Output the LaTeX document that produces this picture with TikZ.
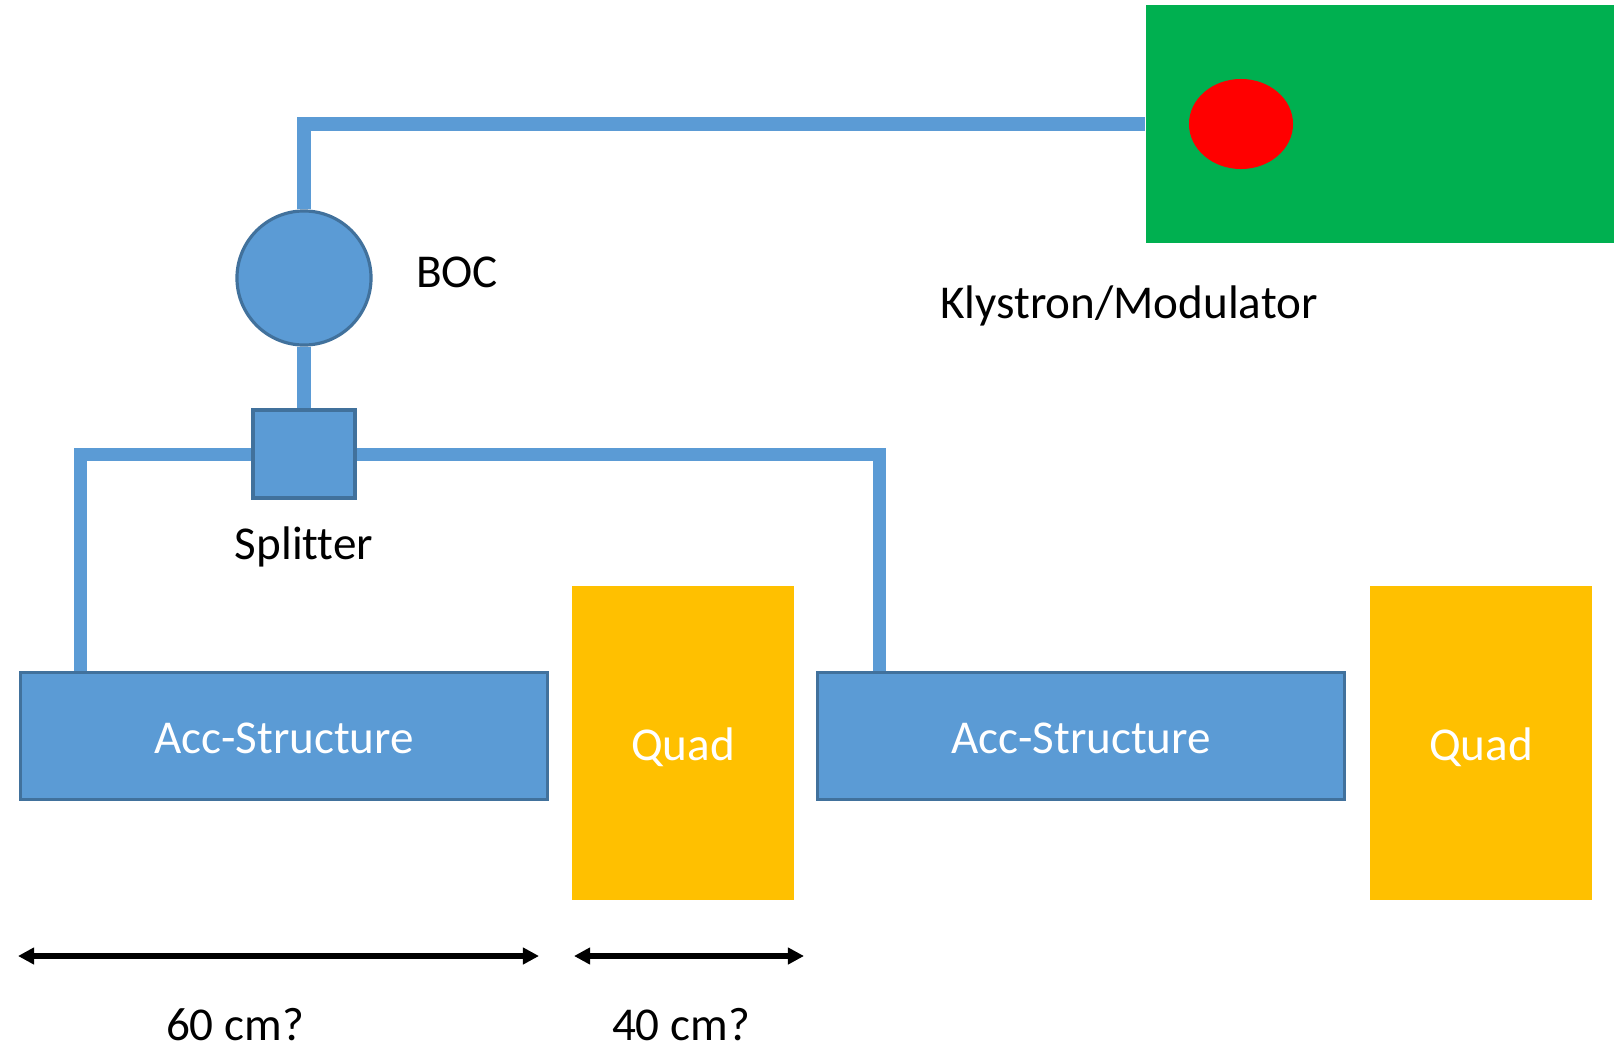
\documentclass[tikz,border=0pt]{standalone}
\usepackage{fontspec}
\setmainfont{Carlito}[Ligatures=NoCommon]
\usetikzlibrary{arrows.meta,shapes.geometric}
\definecolor{accblue}{HTML}{5B9BD5}
\definecolor{accedge}{HTML}{41719C}
\definecolor{quadyellow}{HTML}{FFC000}
\definecolor{klygreen}{HTML}{00B050}
\tikzset{
  txt/.style={font=\fontsize{13.4}{16}\selectfont},
  lbl/.style={txt,anchor=base,inner sep=0pt},
  accbox/.style={txt,draw=accedge,fill=accblue,line width=0.9pt,text=white,
    minimum width=5.27cm,minimum height=1.27cm,inner sep=0pt,
    text height=0.34cm,text depth=0cm},
  quadbox/.style={txt,fill=quadyellow,text=white,
    minimum width=2.22cm,minimum height=3.13cm,inner sep=0pt,
    text height=0.34cm,text depth=0cm},
  wguide/.style={draw=accblue,line width=3.7pt},
  dimline/.style={line width=1.7pt,{Triangle[length=4.6pt,width=4.6pt]}-{Triangle[length=4.6pt,width=4.6pt]}}
}
\begin{document}
\begin{tikzpicture}[x=0.01cm,y=-0.01cm]
    \useasboundingbox (0,0) rectangle (1614,1048);
    \node[fill=klygreen,minimum width=4.68cm,minimum height=2.38cm,inner sep=0pt] (klystron) at (1380,124) {};
    \node[ellipse,fill=red,minimum width=1.04cm,minimum height=0.9cm,inner sep=0pt] (tube) at (1241,124) {};
    \node[circle,draw=accedge,fill=accblue,line width=0.9pt,minimum size=1.34cm,inner sep=0pt] (boc) at (304,278) {};
    \node[draw=accedge,fill=accblue,line width=0.9pt,minimum width=1.02cm,minimum height=0.88cm,inner sep=0pt] (splitter) at (304,454) {};
    \node[accbox] (acc1) at (284,736) {Acc-Structure};
    \node[accbox] (acc2) at (1081,736) {Acc-Structure};
    \node[quadbox] (quad1) at (683,743) {Quad};
    \node[quadbox] (quad2) at (1481,743) {Quad};
    \node[lbl] (boclabel) at (457,287) {BOC};
    \node[lbl] (klylabel) at (1129,318) {Klystron/Modulator};
    \node[lbl] (splitlabel) at (304,559) {Splitter};
    \node[lbl] (len60) at (235,1040) {60 cm?};
    \node[lbl] (len40) at (681,1040) {40 cm?};
    \draw[wguide] (boc.north) |- (klystron.west);
    \draw[wguide] (boc.south) -- (splitter.north);
    \draw[wguide] (splitter.west) -| ([xshift=0.62cm]acc1.north west);
    \draw[wguide] (splitter.east) -| ([xshift=0.64cm]acc2.north west);
    \coordinate (d1l) at (18,956);
    \coordinate (d1r) at (539,956);
    \coordinate (d2l) at (574,956);
    \coordinate (d2r) at (804,956);
    \draw[dimline] (d1l) -- (d1r);
    \draw[dimline] (d2l) -- (d2r);
\end{tikzpicture}
\end{document}
